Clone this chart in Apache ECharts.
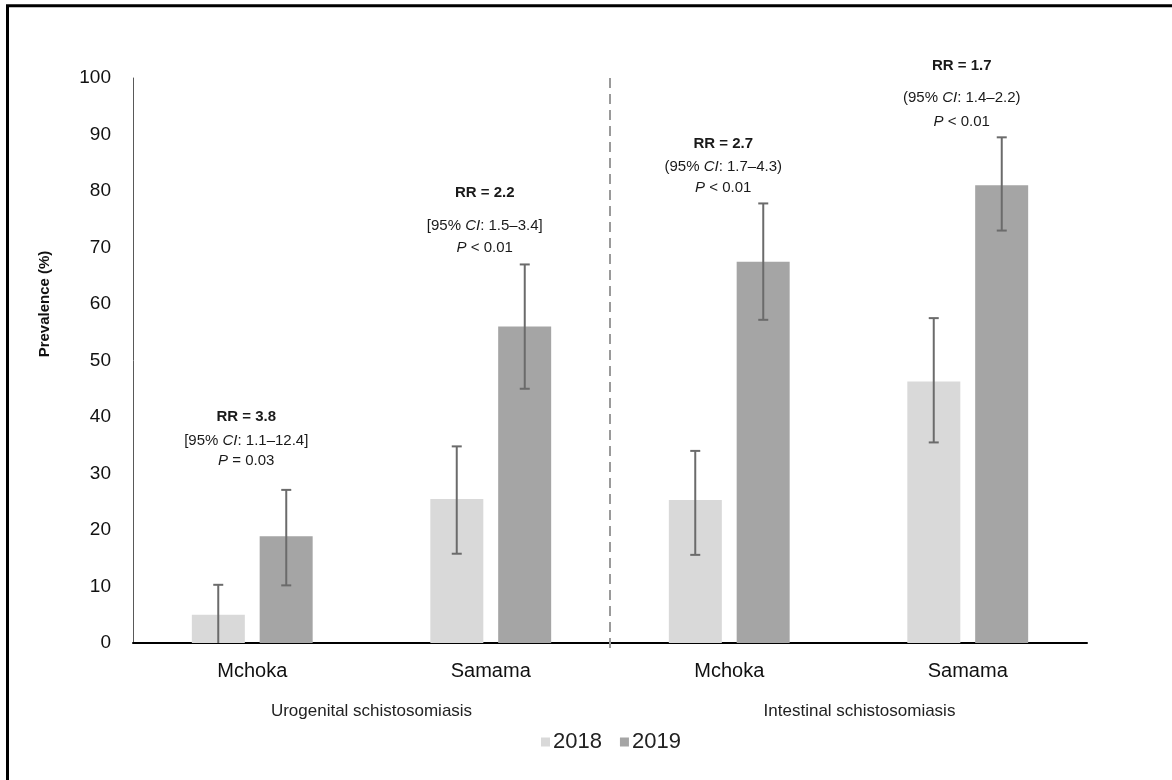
<!DOCTYPE html>
<html>
<head>
<meta charset="utf-8">
<script src="https://cdn.jsdelivr.net/npm/echarts@6/dist/echarts.min.js"></script>
<style>html,body{margin:0;padding:0;background:#fff}#c{width:1172px;height:780px}</style>
</head>
<body>
<div id="c"></div>
<script>
// ---- data ----
const categories = ['Mchoka', 'Samama', 'Mchoka', 'Samama'];
const groups = ['Urogenital schistosomiasis', 'Intestinal schistosomiasis'];
const seriesNames = ['2018', '2019'];
const values2018 = [5.0, 25.5, 25.3, 46.3];
const values2019 = [18.9, 56.0, 67.5, 81.0];
const low2018 = [0, 15.8, 15.6, 35.5];
const high2018 = [10.3, 34.8, 34.0, 57.5];
const low2019 = [10.2, 45.0, 57.2, 73.0];
const high2019 = [27.1, 67.0, 77.8, 89.5];
const annotRR = ['3.8', '2.2', '2.7', '1.7'];
const annotCI = ['1.1–12.4', '1.5–3.4', '1.7–4.3', '1.4–2.2'];
const annotBrackets = [['[', ']'], ['[', ']'], ['(', ')'], ['(', ')']];
const annotP = ['= 0.03', '< 0.01', '< 0.01', '< 0.01'];
const annotY = [40.0, 79.6, 88.3, 102.1];
const yTicks = [0, 100, 10];

// ---- layout / style ----
const FONT = "'Liberation Sans', Arial, sans-serif";
const BAR_W = 53, BAR_OFF = 34, CAP = 10;
const lineGaps = [[24, 20], [33, 22], [23, 21], [32, 24]];
const C18 = '#d9d9d9', C19 = '#a5a5a5', CERR = '#6b6b6b';

const chart = echarts.init(document.getElementById('c'), null, {renderer: 'canvas'});

function errData(lo, hi) { return lo.map((l, i) => [i, l, hi[i]]); }
function errRender(offset) {
  return function (params, api) {
    const i = api.value(0);
    const x = api.coord([i, 0])[0] + offset;
    const yl = api.coord([i, api.value(1)])[1];
    const yh = api.coord([i, api.value(2)])[1];
    const st = {stroke: CERR, lineWidth: 2};
    const ch = [
      {type: 'line', shape: {x1: x, y1: yl, x2: x, y2: yh}, style: st},
      {type: 'line', shape: {x1: x - CAP / 2, y1: yh, x2: x + CAP / 2, y2: yh}, style: st}
    ];
    if (api.value(1) > 0) ch.push({type: 'line', shape: {x1: x - CAP / 2, y1: yl, x2: x + CAP / 2, y2: yl}, style: st});
    return {type: 'group', children: ch};
  };
}

const annotData = annotY.map((y, i) => [i, y]);
function annotRender(params, api) {
  const i = api.value(0);
  const p = api.coord([i, api.value(1)]);
  const x = p[0] - 6;
  const g = lineGaps[i];
  const base = {fontFamily: FONT, fontSize: 15, fill: '#1a1a1a', align: 'center', verticalAlign: 'middle',
    rich: {i: {fontStyle: 'italic', fontFamily: FONT, fontSize: 15, fill: '#1a1a1a'},
           n: {fontFamily: FONT, fontSize: 15, fill: '#1a1a1a'}}};
  return {type: 'group', children: [
    {type: 'text', style: Object.assign({}, base, {text: 'RR = ' + annotRR[i], fontWeight: 'bold', x: x, y: p[1]})},
    {type: 'text', style: Object.assign({}, base, {text: '{n|' + annotBrackets[i][0] + '95% }{i|CI}{n|: ' + annotCI[i] + annotBrackets[i][1] + '}', x: x, y: p[1] + g[0]})},
    {type: 'text', style: Object.assign({}, base, {text: '{i|P}{n| ' + annotP[i] + '}', x: x, y: p[1] + g[0] + g[1]})}
  ]};
}

const option = {
  animation: false,
  backgroundColor: '#fff',
  grid: {left: 133, right: 85, top: 78, bottom: 137, containLabel: false},
  legend: {
    data: seriesNames, left: 536, top: 726, itemWidth: 9, itemHeight: 9, itemGap: 18, icon: 'rect',
    textStyle: {fontFamily: FONT, fontSize: 22, color: '#222', padding: [0, 0, 0, -2]}
  },
  xAxis: [{
    type: 'category', data: categories,
    axisLine: {lineStyle: {color: '#000', width: 2}},
    axisTick: {show: false},
    axisLabel: {fontFamily: FONT, fontSize: 20, color: '#111', margin: 18}
  }, {
    type: 'category', data: groups, position: 'bottom',
    axisLine: {show: false}, axisTick: {show: false},
    axisLabel: {fontFamily: FONT, fontSize: 17, color: '#222', margin: 60,
      formatter: (v, i) => i === 1 ? '{b|' + v + '}' : v,
      rich: {b: {fontFamily: FONT, fontSize: 17, color: '#222', padding: [0, 0, 0, 22]}}}
  }],
  yAxis: {
    type: 'value', min: yTicks[0], max: yTicks[1], interval: yTicks[2],
    axisLine: {show: true, lineStyle: {color: '#595959', width: 1}},
    axisTick: {show: false}, splitLine: {show: false},
    axisLabel: {fontFamily: FONT, fontSize: 19, color: '#111', margin: 22}
  },
  series: [
    {name: seriesNames[0], type: 'bar', data: values2018, barWidth: BAR_W, barGap: '28%', itemStyle: {color: C18}, z: 2},
    {name: seriesNames[1], type: 'bar', data: values2019, barWidth: BAR_W, barGap: '28%', itemStyle: {color: C19}, z: 2},
    {type: 'custom', data: errData(low2018, high2018), renderItem: errRender(-BAR_OFF), encode: {x: 0, y: [1, 2]}, z: 5, silent: true},
    {type: 'custom', data: errData(low2019, high2019), renderItem: errRender(BAR_OFF), encode: {x: 0, y: [1, 2]}, z: 5, silent: true},
    {type: 'custom', data: annotData, renderItem: annotRender, encode: {x: 0, y: 1}, clip: false, z: 6, silent: true}
  ]
};
chart.setOption(option);

const x1 = chart.convertToPixel({xAxisIndex: 0}, 1);
const x2 = chart.convertToPixel({xAxisIndex: 0}, 2);
const xm = Math.round((x1 + x2) / 2);
const yTop = chart.convertToPixel({yAxisIndex: 0}, yTicks[1]);
const yBot = chart.convertToPixel({yAxisIndex: 0}, yTicks[0]);
chart.setOption({graphic: [
  {type: 'line', shape: {x1: xm, y1: yTop, x2: xm, y2: yBot + 5}, style: {stroke: '#9a9a9a', lineWidth: 2, lineDash: [10, 6]}, z: 1},
  {type: 'rect', shape: {x: 7.5, y: 5.8, width: 1300, height: 900}, style: {fill: 'none', stroke: '#000', lineWidth: 3}, z: 100},
  {type: 'text', rotation: Math.PI / 2, x: 45, y: 304, style: {text: 'Prevalence (%)', fontFamily: FONT, fontSize: 15, fontWeight: 'bold', fill: '#111', align: 'center', verticalAlign: 'middle'}}
]});
</script>
</body>
</html>
